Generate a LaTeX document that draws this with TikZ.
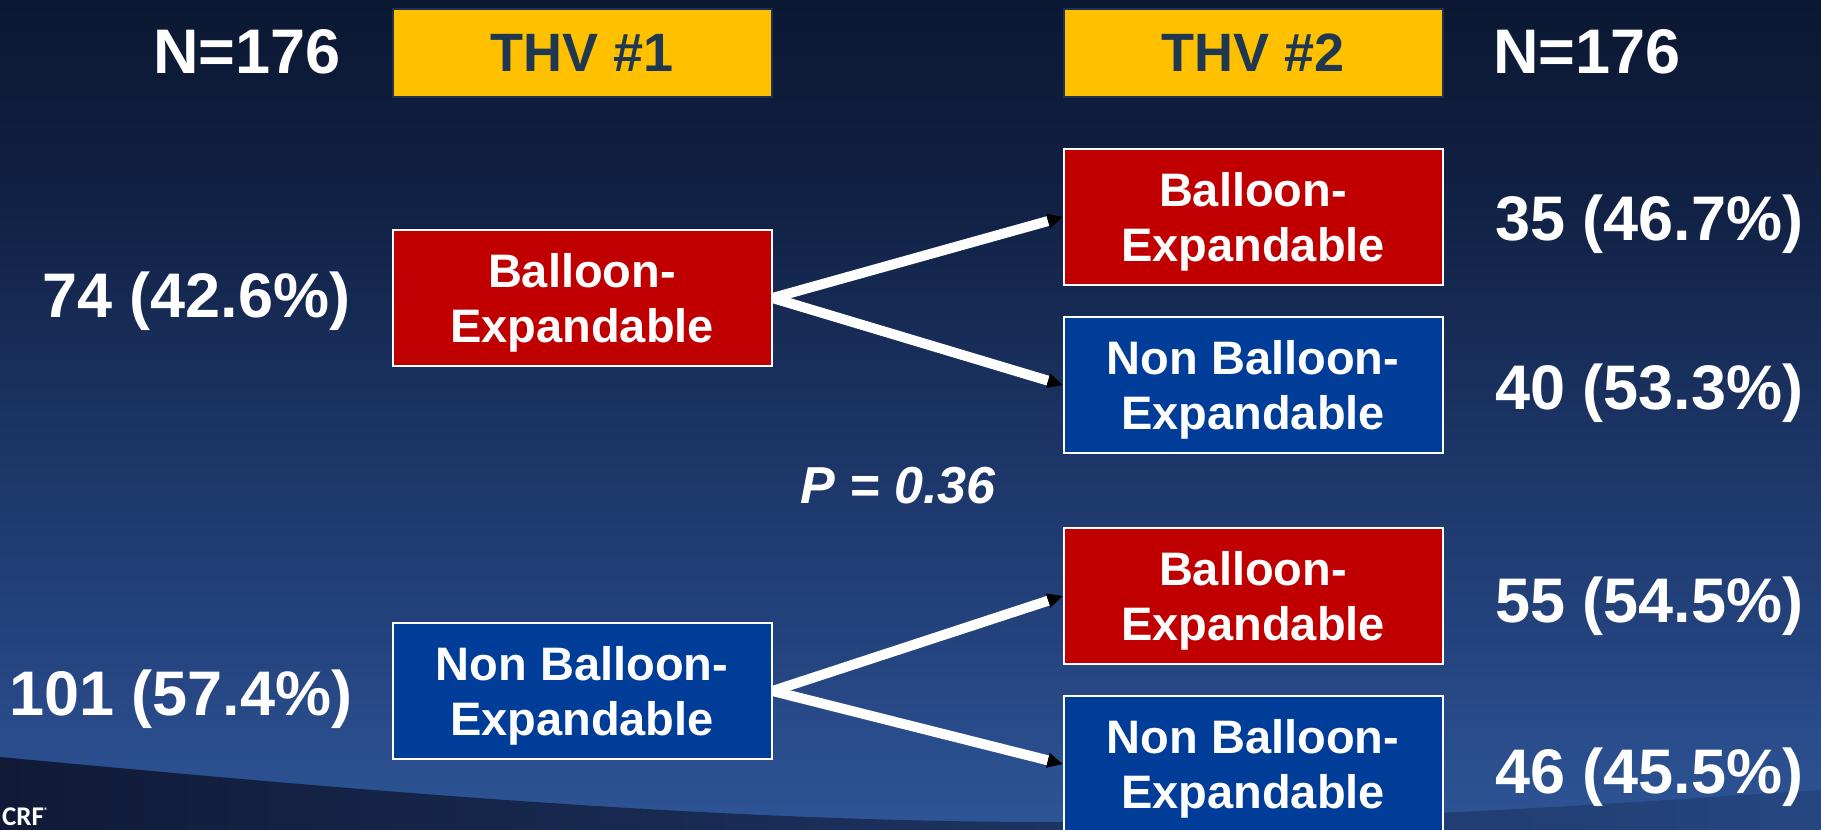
\documentclass[tikz,border=0pt]{standalone}
\usepackage{fontspec}
\setmainfont{Liberation Sans}
\newfontfamily\crffont{Carlito}
\usetikzlibrary{arrows.meta}
\definecolor{bgA}{RGB}{11,24,50}
\definecolor{bgB}{RGB}{17,33,68}
\definecolor{bgC}{RGB}{27,51,99}
\definecolor{bgD}{RGB}{36,67,126}
\definecolor{bgE}{RGB}{46,85,151}
\definecolor{horizL}{RGB}{16,26,55}
\definecolor{horizR}{RGB}{38,70,128}
\definecolor{bered}{RGB}{192,0,0}
\definecolor{beblue}{RGB}{0,61,153}
\definecolor{thvyellow}{RGB}{255,192,0}
\definecolor{thvtext}{RGB}{31,56,80}
\definecolor{thvedge}{RGB}{30,52,78}
\tikzset{
  box/.style={draw=white, line width=2pt, minimum width=379pt, minimum height=136pt,
    inner sep=0pt, align=center, text=white, text depth=0pt,
    font=\bfseries\fontsize{47}{55}\selectfont},
  redbox/.style={box, fill=bered},
  bluebox/.style={box, fill=beblue},
  thvbox/.style={draw=thvedge, line width=2pt, fill=thvyellow, minimum width=379pt,
    minimum height=88pt, inner sep=0pt, text=thvtext, text depth=0pt,
    font=\bfseries\fontsize{54}{60}\selectfont},
  lbl/.style={anchor=base west, inner sep=0pt, text=white,
    font=\bfseries\fontsize{63}{70}\selectfont},
  pval/.style={anchor=base west, inner sep=0pt, text=white,
    font=\bfseries\itshape\fontsize{52}{58}\selectfont},
  conn/.style={draw=white, line width=10pt,
    -{Triangle[length=15pt,width=15pt,line width=0.5pt,color=black,fill=black]}}
}
\begin{document}
\begin{tikzpicture}[x=1pt,y=-1pt]
\useasboundingbox (0,0) rectangle (1821,830);
% background gradient
\shade[top color=bgA, bottom color=bgB] (0,0) rectangle (1821,201);
\shade[top color=bgB, bottom color=bgC] (0,200) rectangle (1821,421);
\shade[top color=bgC, bottom color=bgD] (0,420) rectangle (1821,641);
\shade[top color=bgD, bottom color=bgE] (0,640) rectangle (1821,830);
% horizon
\shade[left color=horizL, right color=horizR]
  (0,757) .. controls (300,785) and (700,822) .. (1050,822)
  .. controls (1400,822) and (1650,800) .. (1821,790)
  -- (1821,830) -- (0,830) -- cycle;
\node[anchor=base west, inner sep=0pt, text=white, font=\crffont\bfseries\fontsize{27}{30}\selectfont]
  (crf) at (2,825) {CRF\raisebox{0.9ex}{\fontsize{8}{9}\selectfont ®}};

% headers
\node[thvbox] (thv1) at (582,53) {THV \#1};
\node[thvbox] (thv2) at (1253,53) {THV \#2};
\node[lbl] (nL) at (153,73) {N=176};
\node[lbl] (nR) at (1493,73) {N=176};

% boxes
\node[redbox] (b1) at (582,298) {Balloon-\\Expandable};
\node[bluebox] (nb1) at (582,691) {Non Balloon-\\Expandable};
\node[redbox] (r1) at (1253,217) {Balloon-\\Expandable};
\node[bluebox] (r2) at (1253,385) {Non Balloon-\\Expandable};
\node[redbox] (r3) at (1253,596) {Balloon-\\Expandable};
\node[bluebox] (r4) at (1253,764) {Non Balloon-\\Expandable};

% connectors
\draw[conn] (b1.east) -- (r1.west);
\draw[conn] (b1.east) -- (r2.west);
\draw[conn] (nb1.east) -- (r3.west);
\draw[conn] (nb1.east) -- (r4.west);

% labels
\node[lbl] (l74) at (42,317) {74 (42.6\%)};
\node[lbl] (l101) at (9,715) {101 (57.4\%)};
\node[lbl] (l35) at (1495,240) {35 (46.7\%)};
\node[lbl] (l40) at (1495,409) {40 (53.3\%)};
\node[lbl] (l55) at (1495,622) {55 (54.5\%)};
\node[lbl] (l46) at (1495,793) {46 (45.5\%)};
\node[pval] (p) at (800,503) {P = 0.36};
\end{tikzpicture}
\end{document}
